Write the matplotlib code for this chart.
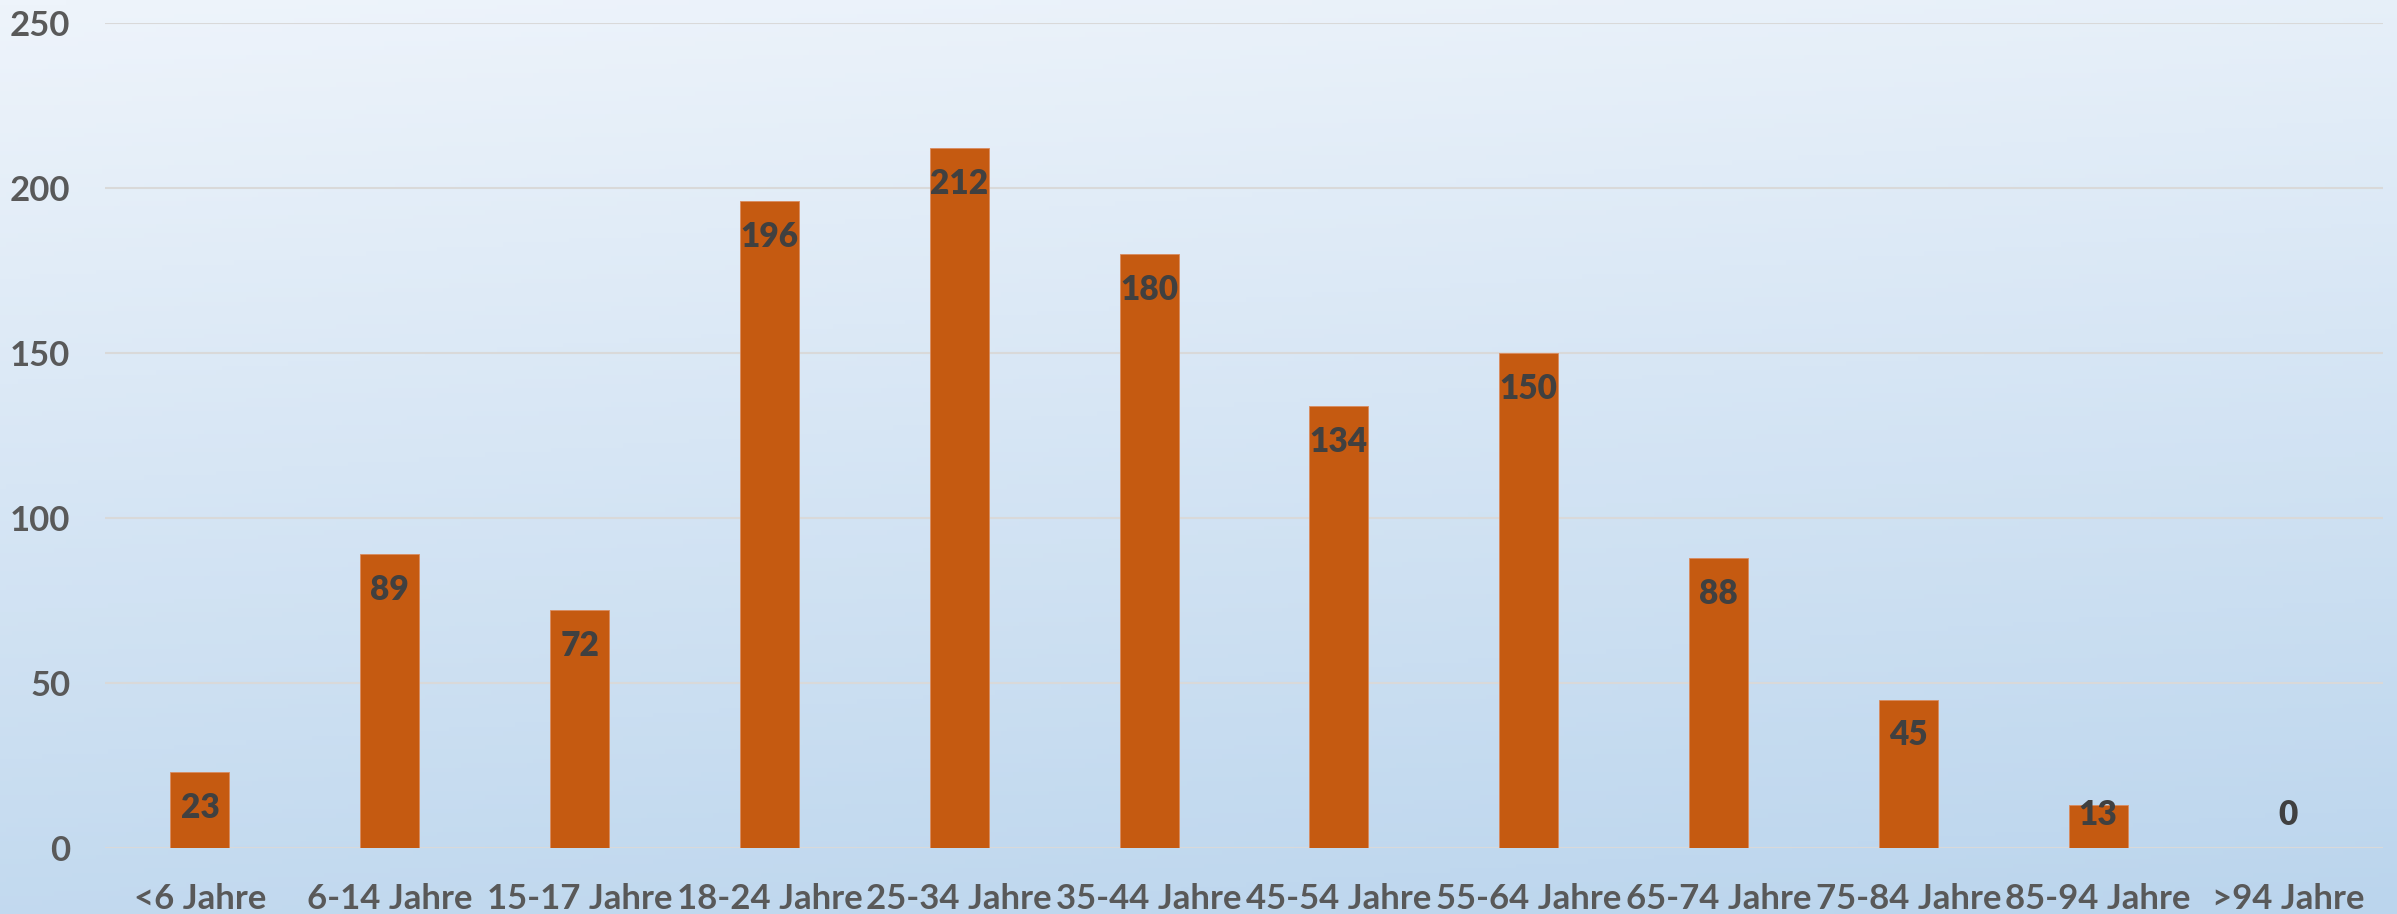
import numpy as np
import matplotlib
matplotlib.use("Agg")
import matplotlib.pyplot as plt
from matplotlib.colors import LinearSegmentedColormap

categories = ["<6 Jahre", "6-14 Jahre", "15-17 Jahre", "18-24 Jahre", "25-34 Jahre",
              "35-44 Jahre", "45-54 Jahre", "55-64 Jahre", "65-74 Jahre",
              "75-84 Jahre", "85-94 Jahre", ">94 Jahre"]
values = [23, 89, 72, 196, 212, 180, 134, 150, 88, 45, 13, 0]
yticks = [0, 50, 100, 150, 200, 250]

W, H = 2397, 914
DPI = 100
plt.rcParams['font.family'] = ['Lato', 'DejaVu Sans']
fig = plt.figure(figsize=(W / DPI, H / DPI), dpi=DPI)

# gradient background
bg = fig.add_axes([0, 0, 1, 1], zorder=-10)
yy, xx = np.mgrid[0:1:200j, 0:1:400j]
t = np.clip(0.85 * yy + 0.15 * xx, 0, 1)
cmap = LinearSegmentedColormap.from_list("g", ["#EEF4FB", "#BBD5ED"])
bg.imshow(t, cmap=cmap, aspect='auto', extent=[0, 1, 0, 1], origin='upper')
bg.axis('off')

ax = fig.add_axes([105 / W, 66 / H, (2383 - 105) / W, (848 - 23) / H])
ax.set_facecolor('none')
x = np.arange(len(categories))
ax.bar(x, values, width=0.31, color='#C55A11', edgecolor='#D98B5F', linewidth=0.6, zorder=3)
ax.set_xlim(-0.5, len(categories) - 0.5)
ax.set_ylim(0, 250)
ax.set_yticks(yticks)
ax.set_xticks(x)
ax.set_xticklabels(categories)
ax.grid(axis='y', color='#D9D9D9', linewidth=1.5, zorder=0)
for s in ax.spines.values():
    s.set_visible(False)
ax.tick_params(axis='both', length=0, labelsize=25, labelcolor='#595959')
ax.tick_params(axis='y', pad=25)
ax.tick_params(axis='x', pad=25)
for lab in ax.get_xticklabels() + ax.get_yticklabels():
    lab.set_fontweight('bold')

for xi, v in zip(x, values):
    ax.text(xi, max(v - 10.9, 10), str(v), ha='center', va='center',
            fontsize=24, fontweight='heavy', color='#404040', zorder=4)

fig.savefig("out.png", dpi=DPI)
